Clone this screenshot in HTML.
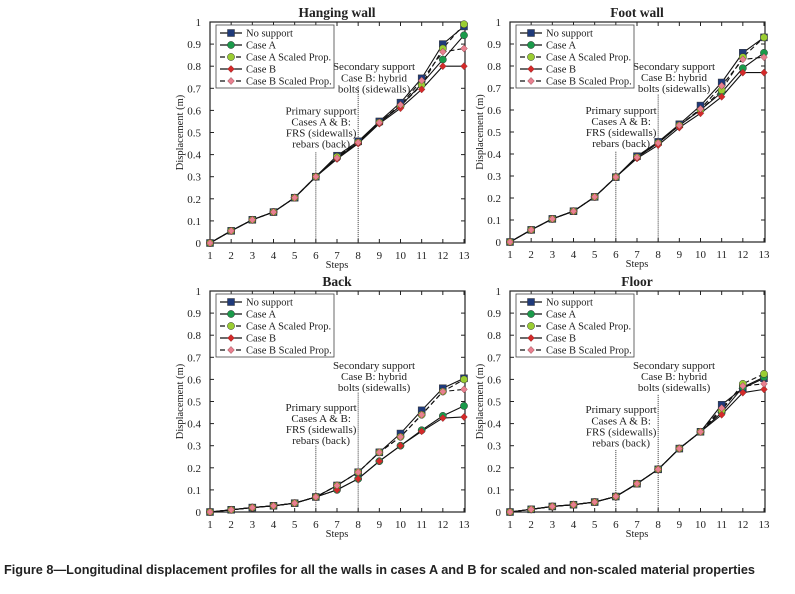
<!DOCTYPE html>
<html><head><meta charset="utf-8"><style>
body{margin:0;background:#fff;width:795px;height:589px;overflow:hidden}
svg text{font-family:"Liberation Serif",serif;fill:#222}
</style></head><body>
<svg id="fig" width="795" height="589" viewBox="0 0 795 589" xmlns="http://www.w3.org/2000/svg">
<text x="4" y="574" style="font-family:'Liberation Sans Narrow','Liberation Sans',sans-serif;font-weight:bold;font-size:12.5px" textLength="751" lengthAdjust="spacingAndGlyphs" fill="#111">Figure 8—Longitudinal displacement profiles for all the walls in cases A and B for scaled and non-scaled material properties</text>
</svg>
<script>
const steps=[1,2,3,4,5,6,7,8,9,10,11,12,13];
const yTicks=[0,0.1,0.2,0.3,0.4,0.5,0.6,0.7,0.8,0.9,1];
const yTickLabels=["0","0.1","0.2","0.3","0.4","0.5","0.6","0.7","0.8","0.9","1"];
const seriesNames=["No support","Case A","Case A Scaled Prop.","Case B","Case B Scaled Prop."];
const hwNoSupport=[0,.055,.105,.14,.205,.30,.395,.46,.55,.635,.745,.90,.98];
const hwCaseA=[0,.055,.105,.14,.205,.30,.385,.455,.545,.62,.72,.83,.94];
const hwCaseAScaled=[0,.055,.105,.14,.205,.30,.39,.455,.545,.62,.715,.88,.99];
const hwCaseB=[0,.055,.105,.14,.205,.30,.38,.45,.54,.61,.695,.80,.80];
const hwCaseBScaled=[0,.055,.105,.14,.205,.30,.385,.455,.545,.625,.735,.865,.88];
const fwNoSupport=[0,.055,.105,.14,.205,.295,.39,.455,.535,.62,.725,.86,.93];
const fwCaseA=[0,.055,.105,.14,.205,.295,.385,.45,.53,.60,.68,.79,.86];
const fwCaseAScaled=[0,.055,.105,.14,.205,.295,.385,.45,.53,.60,.69,.84,.93];
const fwCaseB=[0,.055,.105,.14,.205,.295,.38,.44,.52,.585,.66,.77,.77];
const fwCaseBScaled=[0,.055,.105,.14,.205,.295,.385,.45,.53,.605,.71,.83,.84];
const bkNoSupport=[0,.01,.02,.028,.04,.068,.12,.18,.27,.355,.46,.56,.605];
const bkCaseA=[0,.01,.02,.028,.04,.068,.10,.15,.23,.30,.37,.435,.48];
const bkCaseAScaled=[0,.01,.02,.028,.04,.068,.12,.18,.27,.34,.44,.545,.60];
const bkCaseB=[0,.01,.02,.028,.04,.068,.10,.15,.23,.30,.365,.425,.43];
const bkCaseBScaled=[0,.01,.02,.028,.04,.068,.12,.18,.27,.34,.44,.545,.555];
const flNoSupport=[0,.012,.025,.033,.045,.07,.128,.193,.287,.363,.485,.56,.605];
const flCaseA=[0,.012,.025,.033,.045,.07,.128,.193,.287,.363,.45,.565,.61];
const flCaseAScaled=[0,.012,.025,.033,.045,.07,.128,.193,.287,.363,.46,.58,.625];
const flCaseB=[0,.012,.025,.033,.045,.07,.128,.193,.287,.363,.44,.54,.555];
const flCaseBScaled=[0,.012,.025,.033,.045,.07,.128,.193,.287,.363,.47,.57,.58];

const NS="http://www.w3.org/2000/svg";
const svg=document.getElementById('fig');
function mk(tag,attrs,parent){const e=document.createElementNS(NS,tag);for(const k in attrs)e.setAttribute(k,attrs[k]);(parent||svg).appendChild(e);return e;}
const styles=[
 {fill:"#1f3a7a",shape:"sq",dash:null},
 {fill:"#1a9a4a",shape:"ci",dash:null},
 {fill:"#9acd32",shape:"ci",dash:"5,3"},
 {fill:"#d42a2a",shape:"di",dash:null},
 {fill:"#e88090",shape:"di",dash:"5,3"}];
function marker(g,shape,x,y,fill){
 let e;
 if(shape==="sq") e=mk('rect',{x:x-3.5,y:y-3.5,width:7,height:7,fill:fill,stroke:"#333","stroke-width":0.5},g);
 else if(shape==="ci") e=mk('circle',{cx:x,cy:y,r:3.6,fill:fill,stroke:"#333","stroke-width":0.5},g);
 else e=mk('path',{d:`M${x} ${y-3.6}L${x+3.4} ${y}L${x} ${y+3.6}L${x-3.4} ${y}Z`,fill:fill,stroke:"#733","stroke-width":0.4},g);
 
 
}
const panels=[
 {name:"hanging-wall",title:"Hanging wall",x0:210,x1:464,y0:243,y1:22,data:[hwNoSupport,hwCaseA,hwCaseAScaled,hwCaseB,hwCaseBScaled],v6:0.41,v8:0.71,p1:[0.6,0.55,0.5,0.45],s1:[0.8,0.75,0.7]},
 {name:"foot-wall",title:"Foot wall",x0:510,x1:764,y0:242,y1:22,data:[fwNoSupport,fwCaseA,fwCaseAScaled,fwCaseB,fwCaseBScaled],v6:0.41,v8:0.67,p1:[0.6,0.55,0.5,0.45],s1:[0.8,0.75,0.7]},
 {name:"back",title:"Back",x0:210,x1:464,y0:512,y1:291,data:[bkNoSupport,bkCaseA,bkCaseAScaled,bkCaseB,bkCaseBScaled],v6:0.30,v8:0.54,p1:[0.475,0.425,0.375,0.325],s1:[0.665,0.615,0.565]},
 {name:"floor",title:"Floor",x0:510,x1:764,y0:512,y1:291,data:[flNoSupport,flCaseA,flCaseAScaled,flCaseB,flCaseBScaled],v6:0.28,v8:0.53,p1:[0.465,0.415,0.365,0.315],s1:[0.665,0.615,0.565]}];
const p1Lines=["Primary support","Cases A & B:","FRS (sidewalls)","rebars (back)"];
const s1Lines=["Secondary support","Case B: hybrid","bolts (sidewalls)"];
panels.forEach(p=>{
 const g=mk('g',{});
 
 
 const sx=v=>p.x0+(v-1)/12*(p.x1-p.x0);
 const sy=v=>p.y0+v*(p.y1-p.y0);
 const t=mk('text',{x:(p.x0+p.x1)/2,y:p.y1-5,'text-anchor':'middle','font-size':'13.5','font-weight':'bold'},g);t.textContent=p.title;
 
 const fr=mk('rect',{x:p.x0,y:p.y1,width:p.x1-p.x0+1,height:p.y0-p.y1,fill:"none",stroke:"#222","stroke-width":1.2},g);
 
 yTicks.forEach((v,i)=>{
  const y=sy(v);
  mk('line',{x1:p.x0,x2:p.x0+4,y1:y,y2:y,stroke:"#222"},g);
  mk('line',{x1:p.x1+1,x2:p.x1-3,y1:y,y2:y,stroke:"#222"},g);
  const l=mk('text',{x:p.x0-9,y:y+4,'text-anchor':'end','font-size':'11'},g);l.textContent=yTickLabels[i];
  
 });
 steps.forEach(s=>{
  const x=sx(s);
  mk('line',{x1:x,x2:x,y1:p.y0,y2:p.y0-4,stroke:"#222"},g);
  mk('line',{x1:x,x2:x,y1:p.y1,y2:p.y1+4,stroke:"#222"},g);
  const l=mk('text',{x:x,y:p.y0+16,'text-anchor':'middle','font-size':'11'},g);l.textContent=s;
  
 });
 const xt=mk('text',{x:sx(7),y:p.y0+25,'text-anchor':'middle','font-size':'10.5'},g);xt.textContent="Steps";
 
 const yt=mk('text',{x:0,y:0,'text-anchor':'middle','font-size':'10.5',transform:`translate(${p.x0-27},${(p.y0+p.y1)/2}) rotate(-90)`},g);yt.textContent="Displacement (m)";
 
 // support lines
 [[6,p.v6],[8,p.v8]].forEach(([s,v])=>{
  const l=mk('line',{x1:sx(s),x2:sx(s),y1:sy(v),y2:p.y0,stroke:"#333","stroke-width":1,"stroke-dasharray":"1,1"},g);
  
 });
 p1Lines.forEach((s,i)=>{const e=mk('text',{x:sx(6.25),y:sy(p.p1[i])+4,'text-anchor':'middle','font-size':'11'},g);e.textContent=s;
  });
 s1Lines.forEach((s,i)=>{const e=mk('text',{x:sx(8.75),y:sy(p.s1[i])+4,'text-anchor':'middle','font-size':'11'},g);e.textContent=s;
  });
 // series
 p.data.forEach((arr,si)=>{
  const st=styles[si];
  const sg=mk('g',{},g);
  
  
  const pts=arr.map((v,i)=>sx(steps[i])+','+sy(v)).join(' ');
  const pl=mk('polyline',{points:pts,fill:"none",stroke:"#111","stroke-width":1.1},sg);
  if(st.dash)pl.setAttribute('stroke-dasharray',st.dash);
  
 });
 p.data.forEach((arr,si)=>{
  const st=styles[si];
  arr.forEach((v,i)=>marker(g,st.shape,sx(steps[i]),sy(v),st.fill));
 });
 // legend
 const lg=mk('g',{},g);
 
 const lx=p.x0+6, ly=p.y1+3;
 mk('rect',{x:lx,y:ly,width:118,height:63,fill:"#fff",stroke:"#444","stroke-width":0.8},lg);
 seriesNames.forEach((n,i)=>{
  const st=styles[i];const y=ly+8+i*12;
  const e=mk('g',{},lg);
  
  const l=mk('line',{x1:lx+4,x2:lx+26,y1:y,y2:y,stroke:"#111","stroke-width":1.2},e);
  if(st.dash)l.setAttribute('stroke-dasharray',st.dash);
  marker(e,st.shape,lx+15,y,st.fill);
  const t=mk('text',{x:lx+30,y:y+3.5,'font-size':'10.5'},e);t.textContent=n;
 });
});
</script>
</body></html>
